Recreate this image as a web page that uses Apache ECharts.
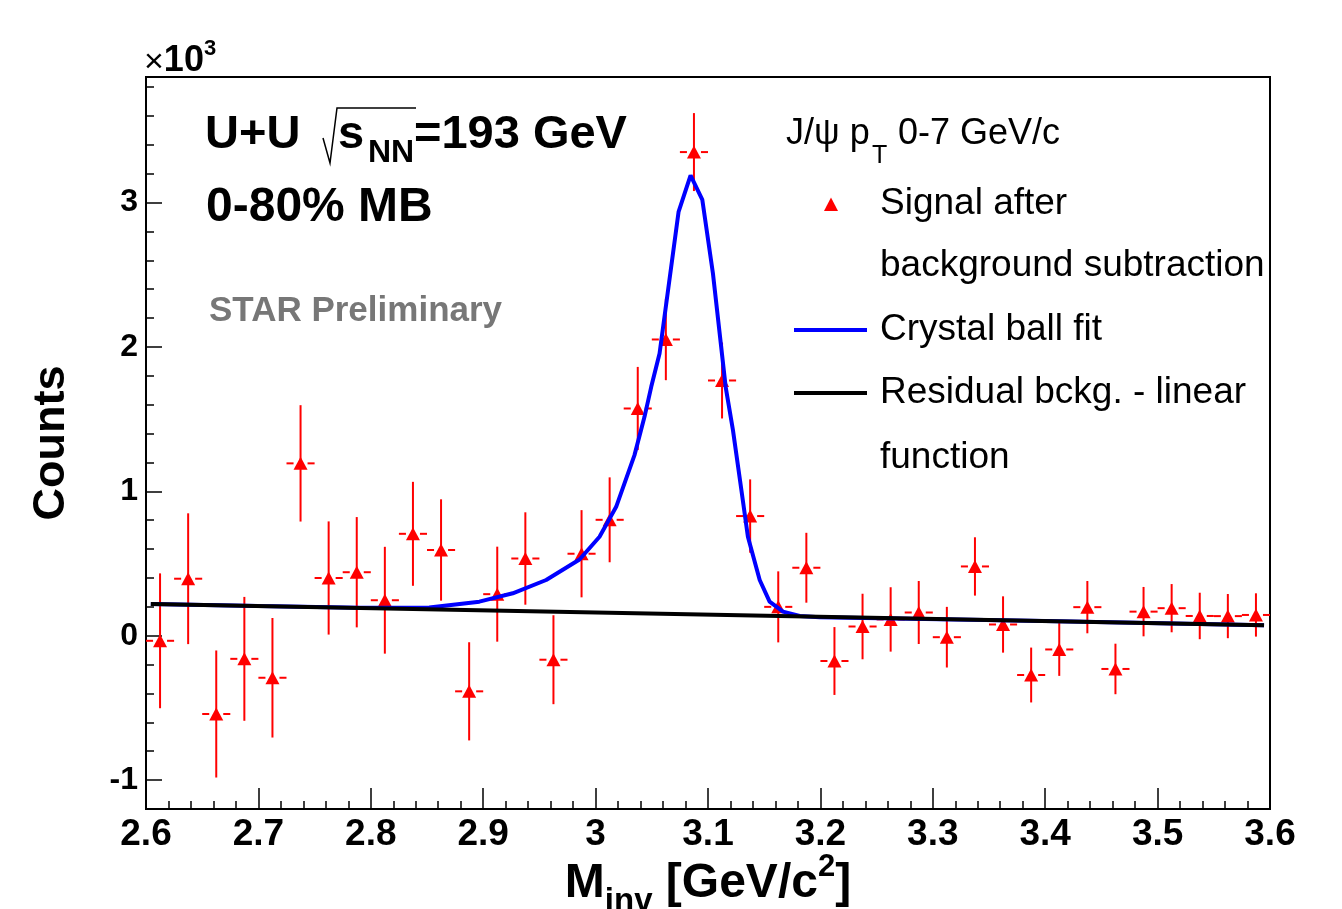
<!DOCTYPE html>
<html>
<head>
<meta charset="utf-8">
<title>J/psi signal U+U 193 GeV</title>
<script src="https://cdn.jsdelivr.net/npm/echarts@6.0.0/dist/echarts.min.js"></script>
<style>
html, body { margin: 0; padding: 0; background: #fff; }
#main { width: 1342px; height: 909px; }
</style>
</head>
<body>
<div id="main"></div>
<script>
"use strict";
// bin centres (GeV/c^2), signal counts and their errors
var binCenters = [2.6125, 2.6375, 2.6625, 2.6875, 2.7125, 2.7375, 2.7625, 2.7875, 2.8125, 2.8375,
                  2.8625, 2.8875, 2.9125, 2.9375, 2.9625, 2.9875, 3.0125, 3.0375, 3.0625, 3.0875,
                  3.1125, 3.1375, 3.1625, 3.1875, 3.2125, 3.2375, 3.2625, 3.2875, 3.3125, 3.3375,
                  3.3625, 3.3875, 3.4125, 3.4375, 3.4625, 3.4875, 3.5125, 3.5375, 3.5625, 3.5875];
var signal = [-35, 395, -542, -160, -291, 1194, 400, 440, 246, 706,
              594, -385, 288, 535, -166, 568, 803, 1574, 2052, 3350,
              1768, 829, 200, 471, -175, 64, 113, 161, -10, 480,
              78, -272, -95, 198, -230, 167, 191, 137, 136, 144];
var signalErr = [467, 453, 440, 429, 414, 403, 392, 382, 370, 360,
                 351, 340, 329, 320, 308, 302, 294, 288, 282, 270,
                 263, 254, 246, 242, 235, 227, 223, 218, 210, 202,
                 195, 190, 183, 181, 175, 171, 167, 161, 153, 150];
var halfBin = 0.0125;

// crystal ball fit curve
var fitX = [2.6043, 2.70, 2.79, 2.852, 2.8966, 2.9263, 2.956, 2.9857, 3.0035, 3.0183,
            3.0346, 3.0435, 3.0495, 3.0569, 3.0738, 3.0845, 3.0949, 3.1044, 3.1157, 3.1222,
            3.1297, 3.1355, 3.146, 3.1548, 3.1667, 3.1816, 3.1994, 3.40, 3.5947];
var fitY = [220, 206, 194, 195, 236, 294, 386, 528, 686, 893,
            1251, 1516, 1724, 1955, 2935, 3189, 3021, 2509, 1724, 1424,
            1009, 686, 386, 236, 167, 137, 128, 102, 73];
// residual background, linear
var bkgX = [2.6043, 3.5947];
var bkgY = [220, 73];

var xTickLabels = ['2.6', '2.7', '2.8', '2.9', '3', '3.1', '3.2', '3.3', '3.4', '3.5', '3.6'];
var yMajorTicks = [-1000, 0, 1000, 2000, 3000];
var yTickLabels = ['-1', '0', '1', '2', '3'];

var FONT = '"Liberation Sans", Arial, Helvetica, sans-serif';
var ctx2d = document.createElement('canvas').getContext('2d');
function textWidth(t, size, weight) {
    ctx2d.font = weight + ' ' + size + 'px ' + FONT;
    return ctx2d.measureText(t).width;
}
// text placed by its baseline
function txt(x, base, t, size, weight, color, align) {
    return {
        type: 'text', z: 100,
        style: {
            text: t, x: x, y: base - 0.3465 * size,
            font: weight + ' ' + size + 'px ' + FONT,
            fill: color || '#000',
            textAlign: align || 'left', textVerticalAlign: 'middle'
        }
    };
}
// pieces laid out one after the other: [text, size, weight, dy]
function run(x, base, parts, centered) {
    var total = 0, out = [];
    parts.forEach(function (p) { total += textWidth(p[0], p[1], p[2]); });
    var cx = centered ? x - total / 2 : x;
    parts.forEach(function (p) {
        out.push(txt(cx, base + p[3], p[0], p[1], p[2]));
        cx += textWidth(p[0], p[1], p[2]);
    });
    return out;
}

var graphics = [];
// x10^3 above the y axis
graphics = graphics.concat(run(144, 74, [['\u00d7', 34, 'normal', 0], ['10', 36, 'bold', 0], ['3', 22, 'bold', -17]], false));
// y title
graphics.push({
    type: 'text', z: 100, x: 52, y: 443, rotation: Math.PI / 2,
    style: { text: 'Counts', x: 0, y: 0, font: 'bold 45px ' + FONT, fill: '#000', textAlign: 'center', textVerticalAlign: 'middle' }
});
// x title
graphics = graphics.concat(run(708, 900, [['M', 48, 'bold', 0], ['inv', 33, 'bold', 13], [' [GeV/c', 48, 'bold', 0], ['2', 31, 'bold', -22], [']', 48, 'bold', 0]], true));

// collision system
graphics.push(txt(205, 151, 'U+U', 47, 'bold'));
graphics.push({
    type: 'polyline', z: 100,
    shape: { points: [[323, 138], [330, 163], [337, 108], [416, 108]] },
    style: { stroke: '#000', lineWidth: 1.5, fill: null }
});
graphics.push(txt(338, 151, 's', 47, 'bold'));
graphics.push(txt(368, 164, 'NN', 32, 'bold'));
graphics.push(txt(414, 151, '=193 GeV', 47, 'bold'));
graphics.push(txt(206, 224, '0-80% MB', 48, 'bold'));
graphics.push(txt(209, 323, 'STAR Preliminary', 35, 'bold', '#777777'));

// legend
graphics.push(txt(786, 147, 'J/\u03c8 p', 36, 'normal'));
graphics.push(txt(872, 165, 'T', 25, 'normal'));
graphics.push(txt(898, 147, '0-7 GeV/c', 36, 'normal'));
graphics.push({
    type: 'polygon', z: 100,
    shape: { points: [[831, 197.5], [824, 211], [838, 211]] },
    style: { fill: '#ff0000' }
});
graphics.push(txt(880, 217, 'Signal after', 37, 'normal'));
graphics.push(txt(880, 279, 'background subtraction', 37, 'normal'));
graphics.push({ type: 'line', z: 100, shape: { x1: 794, y1: 330, x2: 867, y2: 330 }, style: { stroke: '#0000ff', lineWidth: 4 } });
graphics.push(txt(880, 343, 'Crystal ball fit', 37, 'normal'));
graphics.push({ type: 'line', z: 100, shape: { x1: 794, y1: 393, x2: 867, y2: 393 }, style: { stroke: '#000', lineWidth: 4 } });
graphics.push(txt(880, 406, 'Residual bckg. - linear', 37, 'normal'));
graphics.push(txt(880, 471, 'function', 37, 'normal'));

var points = binCenters.map(function (x, i) { return [x, signal[i], signalErr[i]]; });
var fitData = fitX.map(function (x, i) { return [x, fitY[i]]; });
var bkgData = bkgX.map(function (x, i) { return [x, bkgY[i]]; });

var tickStyle = { color: '#000', width: 1.5 };

var myChart = echarts.init(document.getElementById('main'), null, { renderer: 'canvas' });
myChart.setOption({
    animation: false,
    backgroundColor: '#fff',
    grid: { left: 146, right: 72, top: 77, bottom: 100, show: true, borderColor: '#000', borderWidth: 2, containLabel: false },
    xAxis: {
        type: 'value', min: 2.6, max: 3.6, interval: 0.1,
        axisLine: { show: true, onZero: false, lineStyle: { color: '#000', width: 2 } },
        axisTick: { show: true, inside: true, length: 21, lineStyle: tickStyle },
        minorTick: { show: true, splitNumber: 5, length: 8, lineStyle: tickStyle },
        splitLine: { show: false },
        axisLabel: {
            show: true, margin: 7, fontSize: 37, fontFamily: FONT, fontWeight: 'bold', color: '#000',
            showMinLabel: true, showMaxLabel: true,
            formatter: function (v) { return xTickLabels[Math.round((v - 2.6) * 10)]; }
        }
    },
    yAxis: [{
        type: 'value', min: -1200, max: 3870, interval: 200,
        axisLine: { show: true, onZero: false, lineStyle: { color: '#000', width: 2 } },
        axisTick: { show: true, inside: true, length: 8, lineStyle: tickStyle },
        axisLabel: { show: false },
        splitLine: { show: false }
    }, {
        type: 'value', min: -1200, max: 3870, position: 'left', offset: 0,
        axisLine: { show: false },
        axisTick: { show: true, inside: true, length: 16, customValues: yMajorTicks, lineStyle: tickStyle },
        axisLabel: {
            show: true, customValues: yMajorTicks, margin: 8, fontSize: 32,
            fontFamily: FONT, fontWeight: 'bold', color: '#000',
            formatter: function (v) { return yTickLabels[yMajorTicks.indexOf(v)]; }
        },
        splitLine: { show: false }
    }],
    series: [{
        type: 'custom',
        data: points,
        encode: { x: 0, y: 1 },
        z: 3,
        renderItem: function (params, api) {
            var x = api.value(0), y = api.value(1), e = api.value(2);
            var c = api.coord([x, y]);
            var top = api.coord([x, y + e]);
            var bot = api.coord([x, y - e]);
            var l = api.coord([x - halfBin, y]);
            var r = api.coord([x + halfBin, y]);
            var st = { stroke: '#ff0000', lineWidth: 2 };
            return {
                type: 'group',
                children: [
                    { type: 'line', shape: { x1: c[0], y1: top[1], x2: c[0], y2: bot[1] }, style: st },
                    { type: 'line', shape: { x1: l[0], y1: c[1], x2: c[0] - 7, y2: c[1] }, style: st },
                    { type: 'line', shape: { x1: c[0] + 7, y1: c[1], x2: r[0], y2: c[1] }, style: st }
                ]
            };
        }
    }, {
        type: 'scatter',
        data: points.map(function (p) { return [p[0], p[1]]; }),
        symbol: 'triangle', symbolSize: [14, 13],
        itemStyle: { color: '#ff0000', opacity: 1 },
        z: 4
    }, {
        type: 'line', data: fitData, showSymbol: false, symbol: 'none',
        lineStyle: { color: '#0000ff', width: 4 }, z: 5
    }, {
        type: 'line', data: bkgData, showSymbol: false, symbol: 'none',
        lineStyle: { color: '#000', width: 4 }, z: 6
    }],
    graphic: graphics
});
</script>
</body>
</html>
